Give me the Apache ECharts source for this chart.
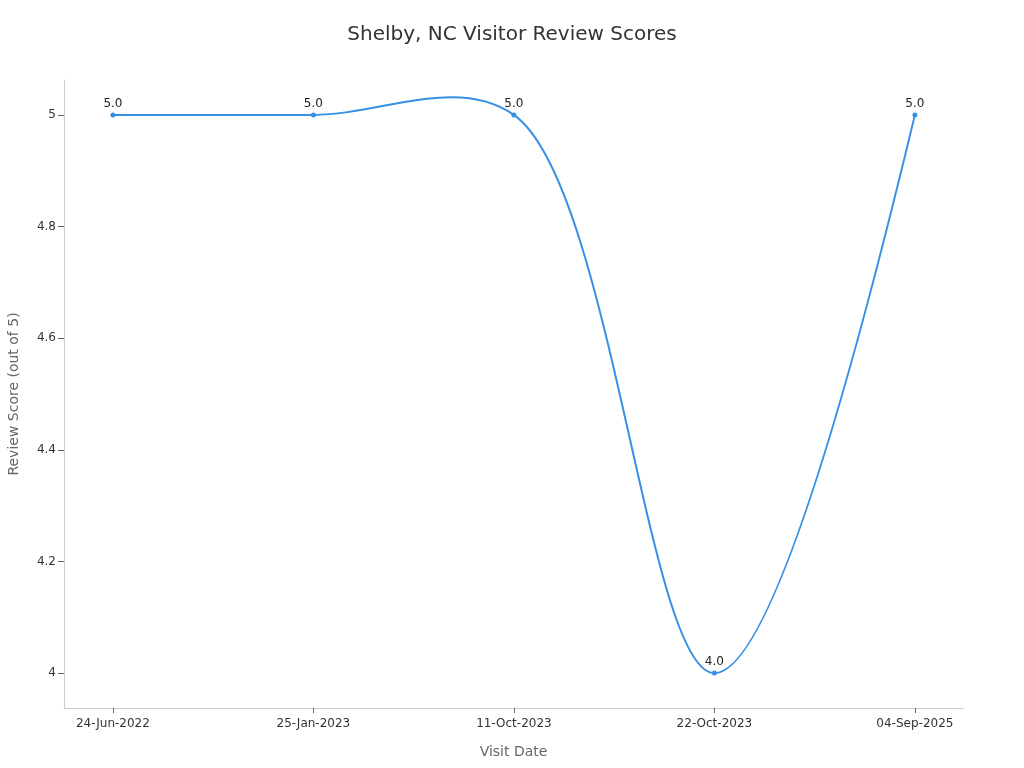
<!DOCTYPE html>
<html>
<head>
<meta charset="utf-8">
<script src="https://cdn.jsdelivr.net/npm/echarts@6/dist/echarts.min.js"></script>
<style>html,body{margin:0;padding:0;background:#fff}#c{width:1024px;height:768px}</style>
</head>
<body>
<div id="c"></div>
<script>
var categories = ['24-Jun-2022', '25-Jan-2023', '11-Oct-2023', '22-Oct-2023', '04-Sep-2025'];
var scores = [5.0, 5.0, 5.0, 4.0, 5.0];
var yTicks = [4, 4.2, 4.4, 4.6, 4.8, 5];

var xIdx = categories.map(function (c, i) { return i; });
var data = scores.map(function (v, i) { return [i, v]; });

// centripetal Catmull-Rom style spline tangent (smoothing = 1)
function makeTangent(p0, p1, p2, s) {
  var d1x = p0[0] - p1[0], d1y = p0[1] - p1[1];
  var d2x = p2[0] - p1[0], d2y = p2[1] - p1[1];
  var d1a = Math.pow(d1x * d1x + d1y * d1y, 0.25);
  var d2a = Math.pow(d2x * d2x + d2y * d2y, 0.25);
  var numx = (d2a * d2a * d1x - d1a * d1a * d2x) * s;
  var numy = (d2a * d2a * d1y - d1a * d1a * d2y) * s;
  var den1 = 3 * d2a * (d1a + d2a);
  var den2 = 3 * d1a * (d1a + d2a);
  return [
    [p1[0] + (den1 && numx / den1), p1[1] + (den1 && numy / den1)],
    [p1[0] - (den2 && numx / den2), p1[1] - (den2 && numy / den2)]
  ];
}
function splinePath(pts) {
  if (pts.length < 3) return 'M' + pts.join('L');
  var t = [], i, path = 'M' + pts[0][0] + ',' + pts[0][1];
  for (i = 1; i < pts.length - 1; i++) t.push(makeTangent(pts[i - 1], pts[i], pts[i + 1], 1));
  path += 'Q' + t[0][0][0] + ',' + t[0][0][1] + ' ' + pts[1][0] + ',' + pts[1][1];
  for (i = 2; i < pts.length - 1; i++) {
    path += 'C' + t[i - 2][1][0] + ',' + t[i - 2][1][1] + ' ' + t[i - 1][0][0] + ',' + t[i - 1][0][1] + ' ' + pts[i][0] + ',' + pts[i][1];
  }
  var last = t[pts.length - 3][1];
  path += 'Q' + last[0] + ',' + last[1] + ' ' + pts[pts.length - 1][0] + ',' + pts[pts.length - 1][1];
  return path;
}

var lineColor = '#3590e6';
var chart = echarts.init(document.getElementById('c'));
chart.setOption({
  animation: false,
  textStyle: { fontFamily: 'DejaVu Sans' },
  title: {
    text: 'Shelby, NC Visitor Review Scores',
    left: 'center', top: 20,
    textStyle: { fontSize: 20, fontWeight: 'normal', color: '#333', fontFamily: 'DejaVu Sans' }
  },
  grid: { left: 64, right: 61, top: 80, bottom: 60, containLabel: false, outerBoundsMode: 'none' },
  xAxis: {
    type: 'value',
    min: -0.244, max: 4.24,
    name: 'Visit Date', nameLocation: 'middle', nameGap: 37,
    nameTextStyle: { fontSize: 14, color: '#666' },
    axisLine: { show: true, onZero: false, lineStyle: { color: '#ccc' } },
    axisTick: { show: true, customValues: xIdx, length: 5, lineStyle: { color: '#666' } },
    axisLabel: {
      customValues: xIdx, fontSize: 12, color: '#333', margin: 10,
      formatter: function (v) { return categories[Math.round(v)]; }
    },
    splitLine: { show: false }
  },
  yAxis: {
    type: 'value',
    min: 3.9375, max: 5.0625,
    name: 'Review Score (out of 5)', nameLocation: 'middle', nameGap: 43,
    nameTextStyle: { fontSize: 14, color: '#666' },
    axisLine: { show: true, onZero: false, lineStyle: { color: '#ccc' } },
    axisTick: { show: true, customValues: yTicks, length: 6, lineStyle: { color: '#666' } },
    axisLabel: {
      customValues: yTicks, fontSize: 12, color: '#333', margin: 8,
      formatter: function (v) { return String(Math.round(v * 10) / 10); }
    },
    splitLine: { show: false }
  },
  series: [{
    type: 'custom',
    z: 2,
    silent: true,
    data: [0],
    renderItem: function (params, api) {
      var pts = data.map(function (d) { return api.coord(d); });
      return {
        type: 'path',
        shape: { pathData: splinePath(pts) },
        style: { fill: null, stroke: lineColor, lineWidth: 2 }
      };
    }
  }, {
    type: 'line',
    z: 3,
    data: data,
    symbol: 'circle', symbolSize: 5,
    lineStyle: { width: 0, opacity: 0 },
    itemStyle: { color: lineColor },
    label: {
      show: true, position: 'top', fontSize: 12, color: '#222', distance: 3,
      formatter: function (p) { return p.value[1].toFixed(1); }
    }
  }]
});
</script>
</body>
</html>
